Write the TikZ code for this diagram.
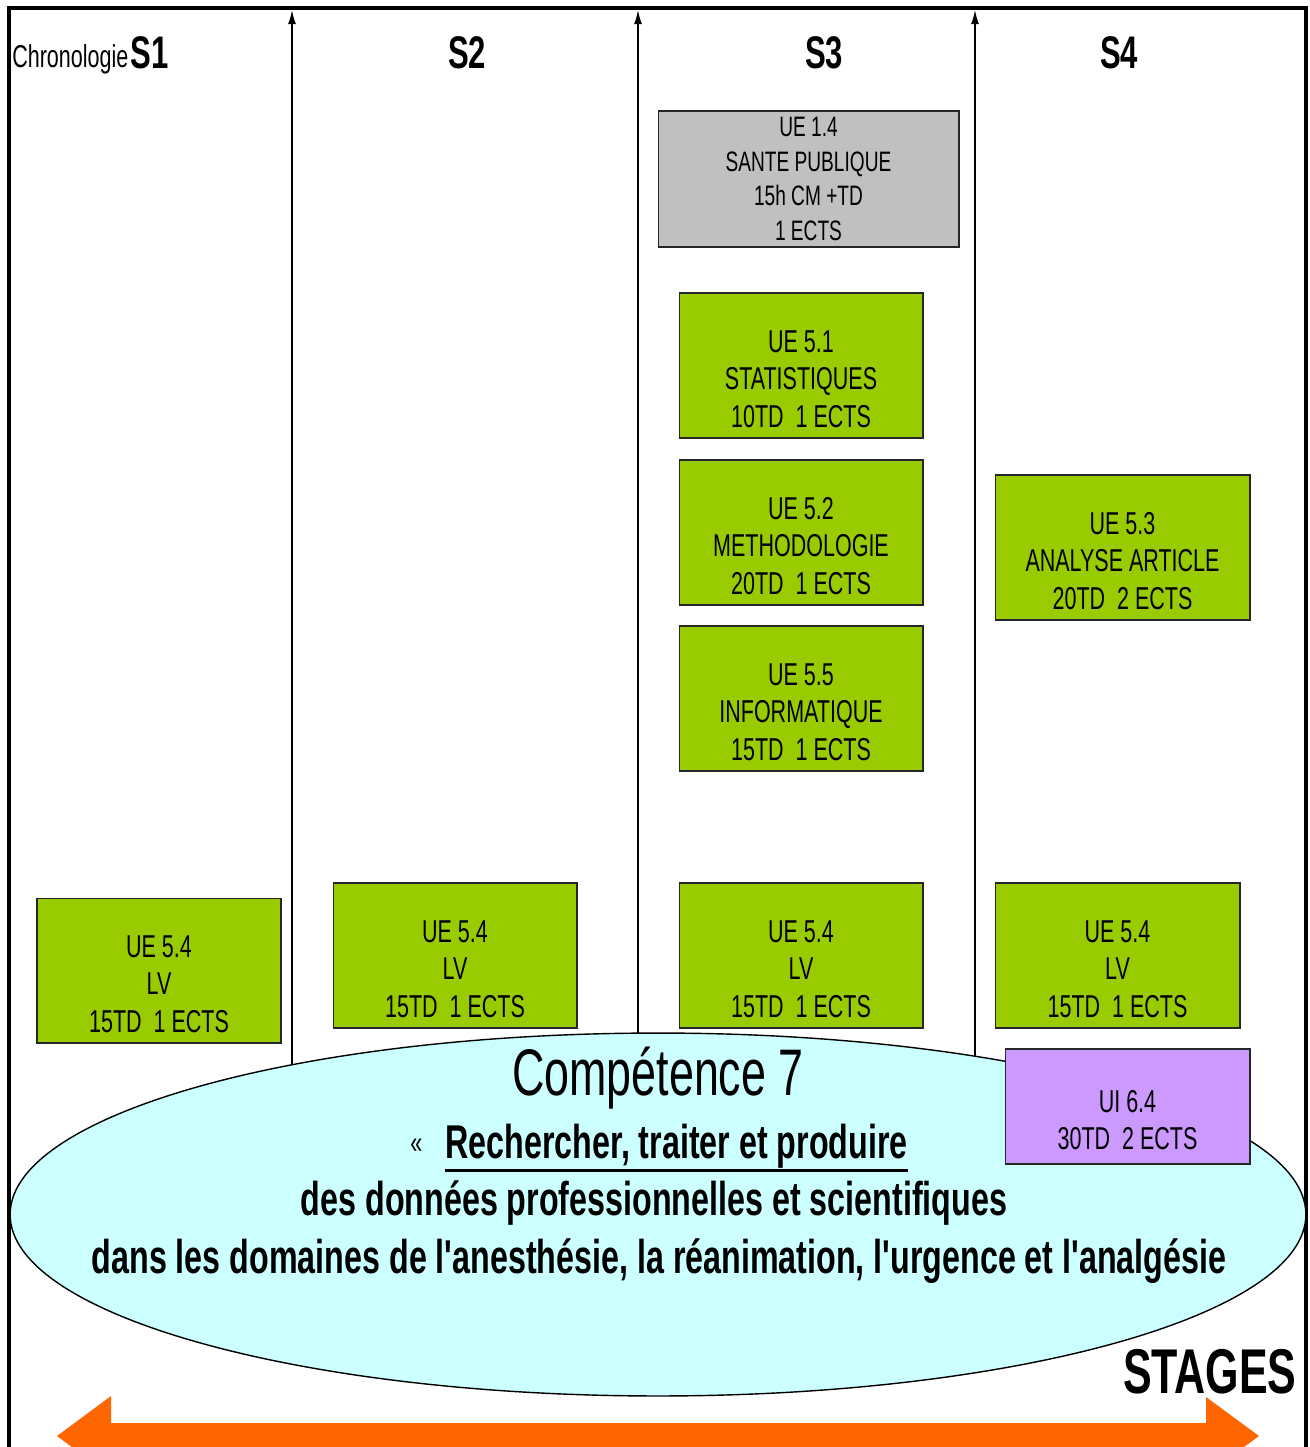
\documentclass[tikz,border=0pt]{standalone}
\usepackage{fontspec}
\setmainfont{Liberation Sans}[FakeStretch=0.68, Ligatures=TeXOff]
\usetikzlibrary{arrows.meta,shapes.geometric}
\definecolor{uegreen}{HTML}{99CC00}
\definecolor{uegray}{HTML}{C0C0C0}
\definecolor{uipurple}{HTML}{CC99FF}
\definecolor{compcyan}{HTML}{CCFFFF}
\definecolor{stageorange}{HTML}{FF6600}
\newcommand{\haut}{\rule{0pt}{28pt}}

\begin{document}
\begin{tikzpicture}[x=0.02cm, y=-0.02cm,
    ue/.style={draw=black!85, line width=0.6pt, fill=uegreen, minimum width=4.88cm, minimum height=2.9cm, inner sep=0pt, align=center,
      font=\fontsize{18}{21.5}\selectfont},
    gris/.style={draw=black!85, line width=0.6pt, fill=uegray, minimum width=6.02cm, minimum height=2.72cm, inner sep=0pt, align=center,
      font=\fontsize{16}{19.8}\selectfont},
    sem/.style={anchor=base, inner sep=0pt, font=\bfseries\fontsize{26}{30}\selectfont},
    comp/.style={anchor=base, inner sep=0pt, font=\bfseries\fontsize{27}{33}\selectfont}]
    \clip (0,0) rectangle (1310,1447);
    \draw[line width=2.4pt] (9,1447) -- (9,8) -- (1306,8) -- (1306,1447);
    \foreach \x/\n in {292/a,638/b,975/c} {\coordinate (top\n) at (\x,10); \coordinate (bot\n) at (\x,1250);
      \draw[line width=0.8pt, -{Latex[length=8pt,width=4.5pt]}] (bot\n) -- (top\n);}
    \node[anchor=base west, inner sep=0pt, font=\fontsize{18}{20}\selectfont] (chrono) at (12,67) {Chronologie};
    \node[sem, anchor=base west] (s1) at (130,68) {S1}; \node[sem] (s2) at (467,68) {S2};
    \node[sem] (s3) at (824,68) {S3}; \node[sem] (s4) at (1119,68) {S4};
    \node[gris] (ue14) at (808.5,179) {UE 1.4\\SANTE PUBLIQUE\\15h CM +TD\\1 ECTS};
    \node[ue] (ue51) at (801,365.5) {\haut UE 5.1\\STATISTIQUES\\10TD\ \ 1 ECTS};
    \node[ue] (ue52) at (801,532.5) {\haut UE 5.2\\METHODOLOGIE\\20TD\ \ 1 ECTS};
    \node[ue] (ue55) at (801,698.5) {\haut UE 5.5\\INFORMATIQUE\\15TD\ \ 1 ECTS};
    \node[ue, minimum width=5.1cm] (ue53) at (1122.5,547.5) {\haut UE 5.3\\ANALYSE ARTICLE\\20TD\ \ 2 ECTS};
    % competence 7
    \node[ellipse, draw, line width=0.8pt, fill=compcyan, minimum width=25.92cm, minimum height=7.26cm, inner sep=0pt] (cpt) at (658,1214.5) {};
    \node[ue] (lvA) at (159,970.5) {\haut UE 5.4\\LV\\15TD\ \ 1 ECTS};
    \node[ue] (lvB) at (455,955.5) {\haut UE 5.4\\LV\\15TD\ \ 1 ECTS};
    \node[ue] (lvC) at (801,955.5) {\haut UE 5.4\\LV\\15TD\ \ 1 ECTS};
    \node[ue, minimum width=4.9cm] (lvD) at (1117.5,955.5) {\haut UE 5.4\\LV\\15TD\ \ 1 ECTS};
    \node[ue, fill=uipurple, minimum width=4.9cm, minimum height=2.3cm] (ui64) at (1127.5,1106.5) {\haut UI 6.4\\30TD\ \ 2 ECTS};
    \node[anchor=base, inner sep=0pt, font=\fontsize{37.5}{40}\selectfont] (titre) at (658,1095) {Compétence 7};
    \node[anchor=base west, inner sep=0pt, font=\fontsize{18}{20}\selectfont] (guil) at (410,1153) {«};
    \node[comp, anchor=base west] (rech) at (445,1158) {Rechercher, traiter et produire};
    \draw[line width=1.6pt] ([yshift=-1.5pt]rech.south west) -- ([yshift=-1.5pt]rech.south east);
    \node[comp] (donnees) at (654,1215) {des données professionnelles et scientifiques};
    \node[comp] (domaines) at (659,1273) {dans les domaines de l'anesthésie, la réanimation, l'urgence et l'analgésie};
    \node[anchor=base east, inner sep=0pt, font=\bfseries\fontsize{36}{40}\selectfont] (stages) at (1297,1393) {STAGES};
    \fill[stageorange] (57,1436) -- (111,1396) -- (111,1423) -- (1206,1423) -- (1206,1397) -- (1259,1436)
      -- (1206,1475) -- (1206,1449) -- (111,1449) -- (111,1476) -- cycle;
\end{tikzpicture}
\end{document}
